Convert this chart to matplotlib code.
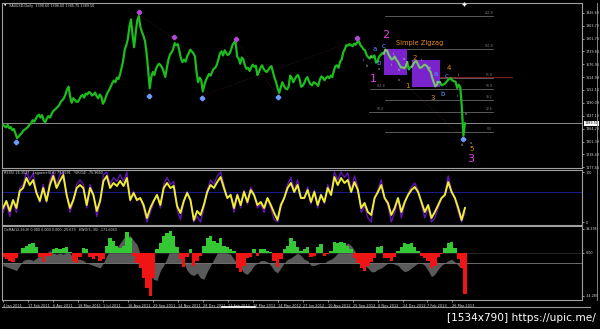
import numpy as np
import matplotlib
matplotlib.use("Agg")
import matplotlib.pyplot as plt
import matplotlib.transforms as mtransforms

# ---------------- data ----------------
# XAUUSD daily closes, one value every 2 bars (bar 0 = 4 Jan 2011, last bar = 592)
price = [
    1382, 1376, 1370, 1383, 1366, 1372, 1356, 1362, 1340, 1318, 1325, 1335, 1342, 1355, 1360, 1366,
    1372, 1385, 1390, 1405, 1398, 1412, 1425, 1432, 1418, 1430, 1405, 1395, 1412, 1425, 1418, 1432,
    1448, 1455, 1462, 1470, 1478, 1495, 1502, 1512, 1530, 1555, 1568, 1520, 1490, 1512, 1505, 1495,
    1495, 1508, 1522, 1528, 1515, 1535, 1530, 1542, 1538, 1525, 1530, 1540, 1522, 1512, 1530, 1520,
    1485, 1498, 1520, 1540, 1552, 1568, 1585, 1598, 1590, 1612, 1605, 1628, 1660, 1695, 1748, 1770,
    1800, 1860, 1895, 1820, 1760, 1830, 1890, 1912, 1860, 1835, 1815, 1790, 1730, 1650, 1560, 1615,
    1640, 1625, 1655, 1670, 1680, 1672, 1660, 1640, 1615, 1660, 1700, 1725, 1735, 1750, 1780, 1770,
    1775, 1742, 1705, 1688, 1700, 1690, 1715, 1732, 1748, 1740, 1730, 1715, 1640, 1590, 1612, 1600,
    1545, 1575, 1600, 1615, 1630, 1622, 1640, 1655, 1660, 1675, 1700, 1730, 1740, 1720, 1745, 1732,
    1722, 1728, 1745, 1770, 1782, 1790, 1715, 1705, 1680, 1710, 1700, 1672, 1655, 1660, 1645, 1662,
    1675, 1665, 1670, 1625, 1640, 1660, 1672, 1655, 1645, 1640, 1650, 1662, 1668, 1640, 1610, 1590,
    1560, 1538, 1565, 1590, 1572, 1560, 1555, 1568, 1622, 1612, 1590, 1605, 1618, 1625, 1605, 1568,
    1572, 1585, 1605, 1615, 1595, 1580, 1575, 1590, 1585, 1580, 1572, 1602, 1618, 1612, 1600, 1610,
    1618, 1610, 1622, 1615, 1645, 1668, 1672, 1660, 1690, 1700, 1735, 1750, 1770, 1768, 1775, 1770,
    1765, 1778, 1772, 1785, 1790, 1770, 1762, 1750, 1745, 1722, 1712, 1705, 1718, 1710, 1720, 1685,
    1690, 1715, 1722, 1732, 1728, 1748, 1745, 1725, 1712, 1700, 1705, 1715, 1700, 1690, 1675, 1662,
    1662, 1658, 1665, 1688, 1652, 1662, 1665, 1680, 1690, 1692, 1675, 1660, 1662, 1668, 1675, 1672,
    1665, 1648, 1640, 1612, 1590, 1570, 1578, 1592, 1590, 1575, 1578, 1582, 1590, 1600, 1605, 1610,
    1598, 1595, 1592, 1562, 1578, 1565, 1470, 1330, 1389.5,
]
price_step = 2

date_labels = ["4 Jan 2011", "17 Feb 2011", "6 Apr 2011", "18 May 2011", "1 Jul 2011",
               "16 Aug 2011", "29 Sep 2011", "14 Nov 2011", "28 Dec 2011", "13 Feb 2012",
               "28 Mar 2012", "14 May 2012", "27 Jun 2012", "10 Aug 2012", "25 Sep 2012",
               "8 Nov 2012", "24 Dec 2012", "7 Feb 2013", "26 Mar 2013"]
bars_per_label = 32

price_ticks = [1926.69, 1863.79, 1801.74, 1739.84, 1676.94, 1614.99, 1552.14,
               1490.09, 1427.19, 1364.29, 1301.39, 1238.49, 1177.44]
last_close = 1389.50

# ZigZag extremes (bar, price)
peak_bars = [174, 219, 298, 454]
peak_prices = [1932, 1810, 1798, 1803]
trough_bars = [17, 187, 255, 352, 589]
trough_prices = [1300, 1524, 1512, 1518, 1316]

# Elliott-wave boxes (bar0, bar1, low, high)
box_bar0 = [488, 524]
box_bar1 = [518, 560]
box_low = [1625, 1567]
box_high = [1751, 1698]

# Fibonacci levels (price, start bar, right label)
fib_prices = [1912, 1751, 1610, 1557, 1503, 1445, 1348]
fib_start = [490, 490, 556, 470, 490, 469, 490]
fib_labels = ["261.8", "161.8", "61.8", "50.0", "38.2", "23.6", "0.0"]
fib_left_prices = [1557, 1445]
fib_left_labels = ["161.8", "50.0"]

# wave labels (text, bar, price, colour-key, size-key)
wave_labels = [
    ("2", 490, 1820, "mag", "big"), ("1", 474, 1604, "mag", "big"), ("3", 599, 1216, "mag", "big"),
    ("c", 488, 1766, "blue", "mid"), ("a", 477, 1752, "blue", "mid"), ("b", 481, 1683, "blue", "mid"),
    ("a", 554, 1630, "blue", "mid"), ("b", 563, 1533, "blue", "mid"), ("c", 569, 1620, "blue", "mid"),
    ("1", 518, 1572, "org", "mid"), ("2", 528, 1708, "org", "mid"), ("3", 551, 1513, "org", "mid"),
    ("4", 571, 1659, "org", "mid"), ("5", 601, 1265, "org", "mid"),
    ("i", 461, 1700, "wht", "sm"), ("iii", 467, 1668, "wht", "sm"), ("iv", 472, 1712, "wht", "sm"),
    ("v", 482, 1655, "wht", "sm"), ("i", 497, 1672, "wht", "sm"), ("ii", 500, 1726, "wht", "sm"),
    ("iii", 508, 1650, "wht", "sm"), ("iv", 514, 1702, "wht", "sm"), ("v", 508, 1600, "wht", "sm"),
    ("ii", 537, 1700, "wht", "sm"), ("iv", 548, 1660, "wht", "sm"), ("v", 556, 1590, "wht", "sm"),
    ("ii", 584, 1624, "wht", "sm"), ("i", 582, 1523, "wht", "sm"), ("iv", 594, 1436, "wht", "sm"),
    ("iii", 589, 1285, "wht", "sm"), ("v", 600, 1295, "wht", "sm"),
]

# RSI / Laguerre panel (139 evenly spaced readings over bars 0..592)
rsi_yellow = [
    28, 42, 22, 44, 28, 62, 68, 88, 74, 84, 58, 42, 68, 42, 74, 92, 68, 82, 94, 54,
    28, 44, 68, 74, 68, 34, 68, 54, 22, 42, 82, 92, 68, 78, 72, 82, 72, 88, 44, 58,
    44, 48, 34, 8, 28, 42, 54, 34, 68, 78, 68, 72, 32, 18, 42, 58, 44, 4, 22,
    14, 34, 60, 74, 68, 80, 90, 68, 48, 54, 28, 54, 34, 60, 40, 64, 54, 34, 40, 28,
    48, 34, 18, 4, 34, 48, 68, 78, 60, 74, 48,
    48, 64, 40, 60, 34, 54, 40, 68, 54, 90, 74, 88, 78, 84, 60, 80, 64, 28, 38, 20,
    14, 48, 60, 74, 48, 38, 14, 28, 48, 20, 40, 54, 64, 70, 60, 40, 20, 34, 8, 20,
    34, 48, 54, 80, 60, 48, 28, 4, 28,
]
rsi_purple = [
    19, 39, 11, 42, 19, 67, 75, 100, 84, 98, 61, 39, 75, 39, 84, 100, 75, 95, 100, 56,
    19, 42, 75, 84, 75, 28, 75, 56, 11, 39, 95, 100, 75, 89, 81, 95, 81, 100, 42, 61,
    42, 47, 28, 0, 19, 39, 56, 28, 75, 89, 75, 81, 25, 5, 39, 61, 42, 0, 11,
    0, 28, 64, 84, 75, 92, 100, 75, 47, 56, 19, 56, 28, 64, 36, 70, 56, 28, 36, 19,
    47, 28, 5, 0, 28, 47, 75, 89, 64, 84, 47,
    47, 70, 36, 64, 28, 56, 36, 75, 56, 100, 84, 100, 89, 98, 64, 92, 70, 19, 33, 8,
    0, 47, 64, 84, 47, 33, 0, 19, 47, 8, 36, 56, 70, 78, 64, 36, 8, 28, 0, 8,
    28, 47, 56, 92, 64, 47, 19, 0, 19,
]
rsi_level = 60
rsi_ticks = [100, 0]

# OsMA histogram and EWO (grey) panel (139 evenly spaced readings)
osma = [
    -3, -5, -6, -7, -4, 0, 4, 6, 7, 8, 5, -3, -7, -2, -2, 3, 4, 3, 4, 5,
    1, -6, -8, -3, 4, 3, -3, -5, -2, -6, -5, 6, 12, 10, 6, 4, 6, 17, 12, -2,
    -8, -12, -20, -28, -34, -20, 3, 8, 14, 16, 18, 14, 5, -5, -11, -3, 3, -10, -6,
    -2, 6, 12, 14, 10, 8, 12, 6, 5, 3, 2, -12, -15, -10, -4, -3, 3, -2, 3, 3,
    2, 1, -6, -11, -5, 3, 6, 12, 10, 5, 2,
    3, 5, -3, -2, 5, 7, -2, -1, 2, 9, 8, 9, 8, 6, 3, -4, -8, -12, -14, -10,
    -7, -4, 5, 6, -4, -4, -6, -3, 2, 5, 8, 7, 8, 5, 2, -2, -4, -6, -12, -10,
    -3, -1, 4, 8, 9, 4, -5, -12, -33,
]
ewo = [
    -10, -11, -12, -13, -14, -10, -6, -5, -5, -6, -4, -2, -2, 0, 2, 0, -1, 0, -1, 1,
    0, -4, -5, -5, -6, -8, -9, -10, -11, -12, -8, -2, 2, 4, 4, 8, 12, 13, 14, 10,
    7, -1, -6, -12, -18, -21, -22, -14, -10, -4, 3, 7, 4, -2, -8, -14, -17, -18, -16,
    -20, -21, -15, -10, -5, 0, 1, 1, 0, -1, -5, -8, -12, -16, -17, -14, -10, -8, -6, -6,
    -7, -10, -14, -16, -12, -8, -5, -4, -2, 0, -2,
    -5, -6, -10, -10, -9, -8, -8, -6, -5, -3, 0, 4, 6, 8, 6, 2, -2, -6, -10, -12,
    -15, -15, -13, -12, -10, -8, -8, -9, -10, -13, -15, -14, -12, -10, -8, -8, -10, -14, -19, -17,
    -13, -10, -8, -6, -5, -7, -10, -12, -12,
]
ewo_base = -7.9
osc_ticks = [19.295, 0.0, -34.289]
osc_tick_labels = ["19.295", "0.00", "-34.289"]

# ---------------- figure ----------------
W, H = 600, 329
fig = plt.figure(figsize=(W / 100, H / 100), dpi=100, facecolor="black")


def fbox(x0, y0, x1, y1):
    return [x0 / W, 1 - y1 / H, (x1 - x0) / W, (y1 - y0) / H]


def ftext(x, y, s, **kw):
    fig.text(x / W, 1 - y / H, s, **kw)


ax_main = fig.add_axes(fbox(2, 3, 582, 168))
ax_rsi = fig.add_axes(fbox(2, 170, 582, 225))
ax_osc = fig.add_axes(fbox(2, 226, 582, 300))

XLIM = (-1.3, 742)
frame_col = "#a0a0a0"
lab_col = "#d8d8d8"
tiny = 2.4

for ax in (ax_main, ax_rsi, ax_osc):
    ax.set_facecolor("black")
    ax.set_xlim(*XLIM)
    for sp in ax.spines.values():
        sp.set_color(frame_col)
        sp.set_linewidth(0.8)
    ax.yaxis.tick_right()
    ax.tick_params(axis="y", colors=lab_col, labelsize=tiny, length=1.5, width=0.5, pad=1)
    ax.tick_params(axis="x", bottom=False, labelbottom=False)

# ---- main price panel ----
ax_main.set_ylim(1172.6, 1975.3)
ax_main.set_yticks(price_ticks)
ax_main.set_yticklabels([f"{v:.2f}" for v in price_ticks])

bars = np.arange(len(price)) * price_step
price_arr = np.array(price)

# boxes behind line
for b0, b1, lo, hi in zip(box_bar0, box_bar1, box_low, box_high):
    ax_main.add_patch(plt.Rectangle((b0, lo), b1 - b0, hi - lo, color="#7a22cc", lw=0, zorder=1))

# fib levels
for p, b0, lab in zip(fib_prices, fib_start, fib_labels):
    ax_main.plot([b0, 628], [p, p], color="#666666", lw=0.6, zorder=0.5)
    ax_main.text(623, p + 6, lab, color="#808080", fontsize=2.2, ha="center", va="bottom")
for p, lab in zip(fib_left_prices, fib_left_labels):
    ax_main.text(484, p + 4, lab, color="#808080", fontsize=2.2, ha="center", va="bottom")
ax_main.plot([547, 652], [1615, 1615], color="#8a1c1c", lw=0.7, zorder=0.6)

# zigzag faint lines
zz = [((174, 1921), (219, 1802)), ((255, 1523), (454, 1796)),
      ((298, 1792), (352, 1527)), ((454, 1796), (589, 1321))]
for (b0, p0), (b1, p1) in zz:
    ax_main.plot([b0, b1], [p0, p1], color="#3a1616", lw=0.5, ls=(0, (2, 2)), zorder=0.4)

# current price line
ax_main.axhline(last_close, color="#8c8c8c", lw=0.7, zorder=0.7)

# price line
ax_main.plot(bars, price_arr, color="#1cbd1c", lw=1.6, zorder=3, solid_joinstyle="round")
for b0, b1 in zip(box_bar0, box_bar1):
    m = (bars >= b0) & (bars <= b1)
    ax_main.plot(bars[m], price_arr[m], color="#8db48d", lw=1.3, zorder=3.5)

# zigzag markers
ax_main.plot(peak_bars, peak_prices, ls="none", marker="P", ms=3.0, color="#b44ad6", zorder=4)
ax_main.plot(trough_bars, trough_prices, ls="none", marker="P", ms=3.0, color="#6a9cff", zorder=4)
ax_main.plot([591], [1971], ls="none", marker="+", ms=3, color="white", clip_on=False, zorder=4)

# wave labels
cols = {"mag": "#e83ee8", "blue": "#5b8dff", "org": "#e88a1e", "wht": "#d8d8d8"}
sizes = {"big": 8.0, "mid": 5, "sm": 2.6}
for s, b, p, c, z in wave_labels:
    ax_main.text(b, p, s, color=cols[c], fontsize=sizes[z], ha="center", va="center", zorder=5)
ax_main.text(503, 1781, "Simple Zigzag", color="#ec8a1e", fontsize=4.8, ha="left", va="center", zorder=5)

# current price tag
trans = mtransforms.blended_transform_factory(ax_main.transAxes, ax_main.transData)
ax_main.text(1.004, last_close, f"{last_close:.2f}", transform=trans, fontsize=tiny, color="black",
             ha="left", va="center", zorder=6,
             bbox=dict(boxstyle="square,pad=0.15", fc="white", ec="white", lw=0))

# ---- RSI panel ----
x_ind = np.linspace(0, 592, len(rsi_yellow))
ax_rsi.set_ylim(-6, 104)
ax_rsi.set_yticks(rsi_ticks)
ax_rsi.set_yticklabels([str(t) for t in rsi_ticks])
ax_rsi.axhline(rsi_level, color="#1a1a8a", lw=0.8, zorder=0.5)
ax_rsi.plot(x_ind, rsi_purple, color="#6414b4", lw=1.0, zorder=1)
ax_rsi.plot(x_ind, rsi_yellow, color="#f0ee30", lw=1.4, zorder=2)

# ---- OsMA / EWO panel ----
ax_osc.set_ylim(-37.6, 21.6)
ax_osc.set_yticks(osc_ticks)
ax_osc.set_yticklabels(osc_tick_labels)
ax_osc.fill_between(x_ind, ewo_base, ewo, color="#5a5a5a", lw=0, zorder=1)
ax_osc.axhline(ewo_base, color="#7c7c7c", lw=0.6, zorder=1.5)
osma_arr = np.array(osma)
bw = x_ind[1] - x_ind[0]
ax_osc.bar(x_ind, osma_arr, width=bw, color=np.where(osma_arr >= 0, "#34c834", "#f01414"),
           lw=0, zorder=2)
ax_osc.axhline(0, color="#404040", lw=0.4, zorder=1.6)

# date axis
ax_osc.set_xticks(np.arange(len(date_labels)) * bars_per_label)
ax_osc.set_xticklabels(date_labels)
ax_osc.tick_params(axis="x", bottom=True, labelbottom=True, colors=lab_col, labelsize=2.5,
                   length=1.5, width=0.5, pad=1.5)
for t in ax_osc.get_xticklabels():
    t.set_ha("left")

# ---- texts / decorations outside axes ----
ftext(4, 6, "\u25bc", color="white", fontsize=2.2, va="center", ha="left")
ftext(9, 6, "XAUUSD,Daily  1390.60 1396.60 1385.75 1389.50", color=lab_col, fontsize=2.4,
      va="center", ha="left")
ftext(4, 173, "RSI(5) 26.3527   Laguerre(0.6) 79.8591   %R(14) -75.9660", color=lab_col,
      fontsize=2.4, va="center", ha="left")
ftext(4, 230, "OsMA(12,26,9) 0.000 0.000 0.000 -25.673   EWO(5, 35) -171.6043", color=lab_col,
      fontsize=2.4, va="center", ha="left")

# scrollbar and right frame
fig.add_artist(plt.Line2D([2 / W, 590 / W], [1 - 307 / H, 1 - 307 / H], color="#9a9a9a", lw=0.8))
fig.add_artist(plt.Line2D([222 / W, 255 / W], [1 - 307 / H, 1 - 307 / H], color="white", lw=1.2))
fig.add_artist(plt.Line2D([597 / W, 597 / W], [1 - 3 / H, 1 - 300 / H], color="#9a9a9a", lw=0.6))

ftext(596, 318, "[1534x790] https://upic.me/", color="white", fontsize=7.6, ha="right", va="center")

fig.savefig("out.png", dpi=100, facecolor="black")
